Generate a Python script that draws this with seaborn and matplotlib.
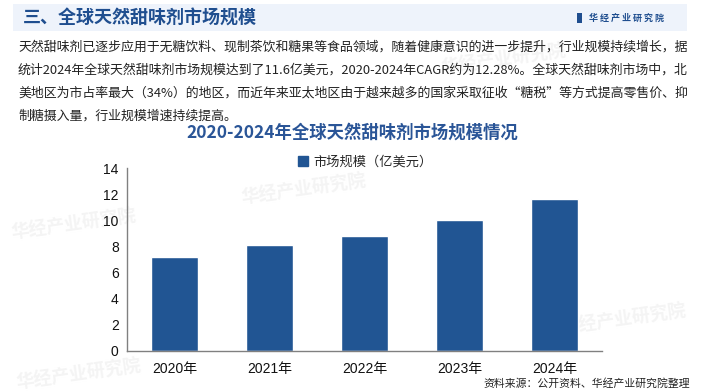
import numpy as np
import pandas as pd
import matplotlib
matplotlib.use('Agg')
import matplotlib.pyplot as plt
import matplotlib.patches as mpatches
import seaborn as sns

# data
years = ['2020年', '2021年', '2022年', '2023年', '2024年']
market_size = [7.2, 8.1, 8.8, 10.0, 11.6]
series_name = '市场规模（亿美元）'
y_ticks = [0, 2, 4, 6, 8, 10, 12, 14]

header = '三、全球天然甜味剂市场规模'
brand = '华 经 产 业 研 究 院'
paragraph = [
    '天然甜味剂已逐步应用于无糖饮料、现制茶饮和糖果等食品领域，随着健康意识的进一步提升，行业规模持续增长，据',
    '统计2024年全球天然甜味剂市场规模达到了11.6亿美元，2020-2024年CAGR约为12.28%。全球天然甜味剂市场中，北',
    '美地区为市占率最大（34%）的地区，而近年来亚太地区由于越来越多的国家采取征收“糖税”等方式提高零售价、抑',
    '制糖摄入量，行业规模增速持续提高。',
]
chart_title = '2020-2024年全球天然甜味剂市场规模情况'
source = '资料来源：公开资料、华经产业研究院整理'

sns.set_theme(style='white')
plt.rcParams['font.family'] = ['Noto Sans CJK SC', 'DejaVu Sans']

bar_color = '#215593'
title_color = '#2a5597'
W, H = 705, 392

fig = plt.figure(figsize=(7.05, 3.92), dpi=100)
fig.patch.set_facecolor('white')

# header band
fig.patches.append(mpatches.Rectangle((13 / W, 1 - 31 / H), 674 / W, 27 / H,
                                      transform=fig.transFigure, facecolor='#eef3fb',
                                      edgecolor='none', zorder=-2))
fig.text(23 / W, 1 - 18 / H, header, fontsize=13, fontweight='bold', color='#1f4e8f',
         va='center', ha='left')
fig.patches.append(mpatches.Rectangle((577 / W, 1 - 23 / H), 5 / W, 10 / H,
                                      transform=fig.transFigure, facecolor='#1f4e8f',
                                      edgecolor='none'))
fig.text(589 / W, 1 - 18 / H, brand, fontsize=6.5, fontweight='bold', color='#1f4e8f',
         va='center', ha='left')

# faint watermarks behind the chart
for (wx, wy) in [(240, 190), (10, 225), (15, 375), (440, 60), (560, 320)]:
    fig.text(wx / W, 1 - wy / H, '华经产业研究院', fontsize=13, fontweight='bold',
             color='#f4f4f4', rotation=8, va='center', ha='left', zorder=-1)

# paragraph
for i, line in enumerate(paragraph):
    fig.text(18 / W, 1 - (47 + 23 * i) / H, line, fontsize=9.3, color='#222222',
             va='center', ha='left')

fig.text(352 / W, 1 - 133 / H, chart_title, fontsize=12.5, fontweight='bold',
         color=title_color, va='center', ha='center')

fig.text(690 / W, 1 - 383 / H, source, fontsize=7.8, color='#222222',
         va='center', ha='right')

# chart
ax = fig.add_axes([127 / W, 41 / H, 475 / W, 183 / H])
ax.patch.set_alpha(0)
df = pd.DataFrame({'year': years, 'value': market_size, 'series': series_name})
sns.barplot(data=df, x='year', y='value', hue='series', palette=[bar_color],
            width=0.5, ax=ax, legend=False, saturation=1)

ax.set_ylim(0, 14)
ax.set_xlim(-0.5, len(years) - 0.5)
ax.set_yticks(y_ticks)
ax.set_yticklabels([str(t) for t in y_ticks], family=['Liberation Sans', 'DejaVu Sans'],
                   fontsize=10)
ax.set_xticks(range(len(years)))
ax.set_xticklabels(years, family=['Liberation Sans', 'Noto Sans CJK SC'], fontsize=10)
ax.set_xticks(np.arange(-0.5, len(years), 1), minor=True)
ax.tick_params(axis='x', which='major', length=0, pad=8, colors='#111111')
ax.tick_params(axis='x', which='minor', length=4, width=0.8, color='#808080', direction='out')
ax.tick_params(axis='y', length=3, width=0.8, color='#808080', direction='out', pad=3,
               labelcolor='#111111')
ax.set_xlabel('')
ax.set_ylabel('')
for s in ['top', 'right']:
    ax.spines[s].set_visible(False)
for s in ['left', 'bottom']:
    ax.spines[s].set_color('#808080')
    ax.spines[s].set_linewidth(1)
ax.grid(False)

handles = [mpatches.Patch(color=bar_color, label=series_name)]
leg = ax.legend(handles=handles, loc='center left', bbox_to_anchor=(291 / W, 1 - 162 / H),
                bbox_transform=fig.transFigure, frameon=False, fontsize=9.5,
                handlelength=0.8, handleheight=0.8, handletextpad=0.4, borderpad=0)

fig.savefig('out.png', dpi=100, facecolor='white')
